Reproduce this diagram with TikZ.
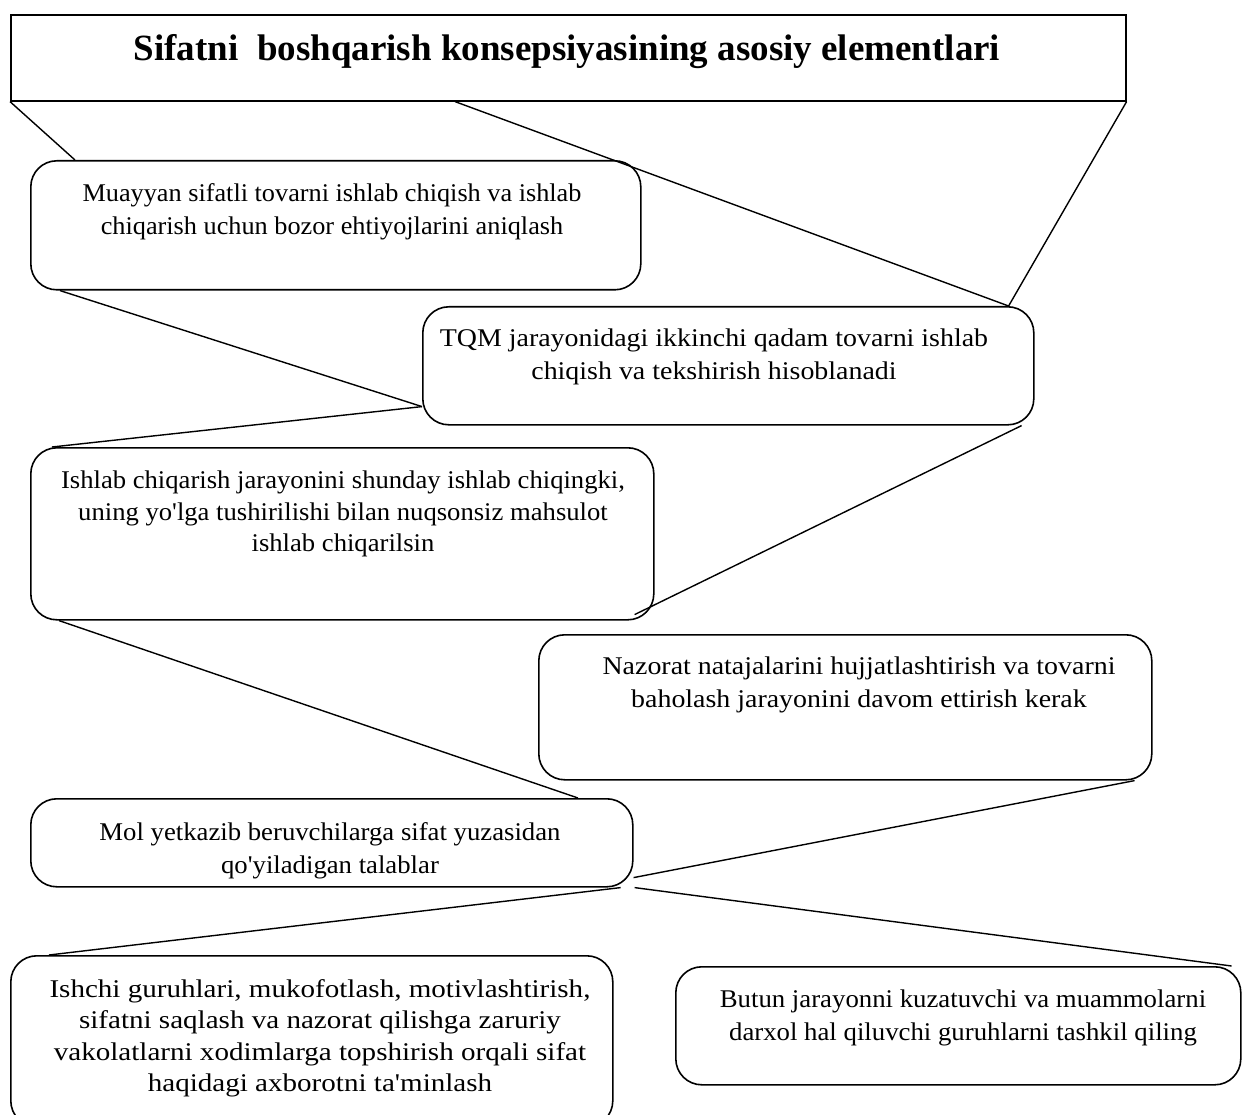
\documentclass[tikz,border=0pt]{standalone}
\usepackage{fontspec}
\setmainfont{Liberation Serif}[Ligatures=TeXOff]
\begin{document}
\begin{tikzpicture}[x=1pt,y=-1pt,
  boxA/.style={draw,line width=1.6pt,rounded corners=26pt,anchor=north west,inner sep=0pt},
  titlebox/.style={draw,line width=1.6pt,anchor=north west,inner sep=0pt},
  txt/.style={anchor=north,align=center,inner sep=0pt,font=\fontsize{25.5}{33}\selectfont\addfontfeature{FakeStretch=#1}},
  txt/.default=1.0,
  wtxt/.style={anchor=north,align=center,inner sep=0pt,font=\fontsize{25.5}{31.5}\selectfont\addfontfeature{FakeStretch=#1}},
  conn/.style={line width=1.4pt}]
\useasboundingbox (0,0) rectangle (1242,1115);
% boxes
\node[titlebox,minimum width=1115pt,minimum height=86pt] (title) at (10,14) {};
\node[boxA,minimum width=610pt,minimum height=129pt] (b1) at (30,160) {};
\node[boxA,minimum width=611pt,minimum height=118pt] (b2) at (422,306) {};
\node[boxA,minimum width=623pt,minimum height=172pt] (b3) at (30,447) {};
\node[boxA,minimum width=613pt,minimum height=145pt] (b4) at (538,634) {};
\node[boxA,minimum width=602pt,minimum height=88pt] (b5) at (30,798) {};
\node[boxA,minimum width=602pt,minimum height=171pt] (b6) at (10,955) {};
\node[boxA,minimum width=565pt,minimum height=118pt] (b7) at (675,966) {};
% texts
\node[anchor=base,inner sep=0pt,font=\bfseries\fontsize{37}{40}\selectfont] (tt) at (567,61) {Sifatni\ \ boshqarish konsepsiyasining asosiy elementlari};
\node[txt=1.03] (t1) at (332,183) {Muayyan sifatli tovarni ishlab chiqish va ishlab\\chiqarish uchun bozor ehtiyojlarini aniqlash};
\node[txt=1.095] (t2) at (714,329) {TQM jarayonidagi ikkinchi qadam tovarni ishlab\\chiqish va tekshirish hisoblanadi};
\node[wtxt=1.045] (t3) at (343,471) {Ishlab chiqarish jarayonini shunday ishlab chiqingki,\\uning yo'lga tushirilishi bilan nuqsonsiz mahsulot\\ishlab chiqarilsin};
\node[txt=1.094] (t4) at (859,657) {Nazorat natajalarini hujjatlashtirish va tovarni\\baholash jarayonini davom ettirish kerak};
\node[txt=1.048] (t5) at (330,822) {Mol yetkazib beruvchilarga sifat yuzasidan\\qo'yiladigan talablar};
\node[wtxt=1.14] (t6) at (320,979) {Ishchi guruhlari, mukofotlash, motivlashtirish,\\sifatni saqlash va nazorat qilishga zaruriy\\vakolatlarni xodimlarga topshirish orqali sifat\\haqidagi axborotni ta'minlash};
\node[txt=1.05] (t7) at (963,990) {Butun jarayonni kuzatuvchi va muammolarni\\darxol hal qiluvchi guruhlarni tashkil qiling};
% connectors
\coordinate (c2) at ([xshift=-26pt]b2.north east);
\coordinate (c4) at ([yshift=19pt]b2.south west);
\draw[conn] (title.south west) -- ([xshift=45pt]b1.north west);
\draw[conn] ([xshift=445pt]title.south west) -- (c2);
\draw[conn] (title.south east) -- (c2);
\draw[conn] ([xshift=30pt]b1.south west) -- (c4);
\draw[conn] (c4) -- ([xshift=22pt]b3.north west);
\draw[conn] ([xshift=-13pt]b2.south east) -- ([xshift=-20pt,yshift=6pt]b3.south east);
\draw[conn] ([xshift=29pt]b3.south west) -- ([xshift=548pt]b5.north west);
\draw[conn] ([xshift=-18pt]b4.south east) -- ([yshift=10pt]b5.south east);
\draw[conn] ([xshift=-13pt]b5.south east) -- ([xshift=39pt]b6.north west);
\draw[conn] ([xshift=1pt]b5.south east) -- ([xshift=-10pt]b7.north east);
\end{tikzpicture}
\end{document}
